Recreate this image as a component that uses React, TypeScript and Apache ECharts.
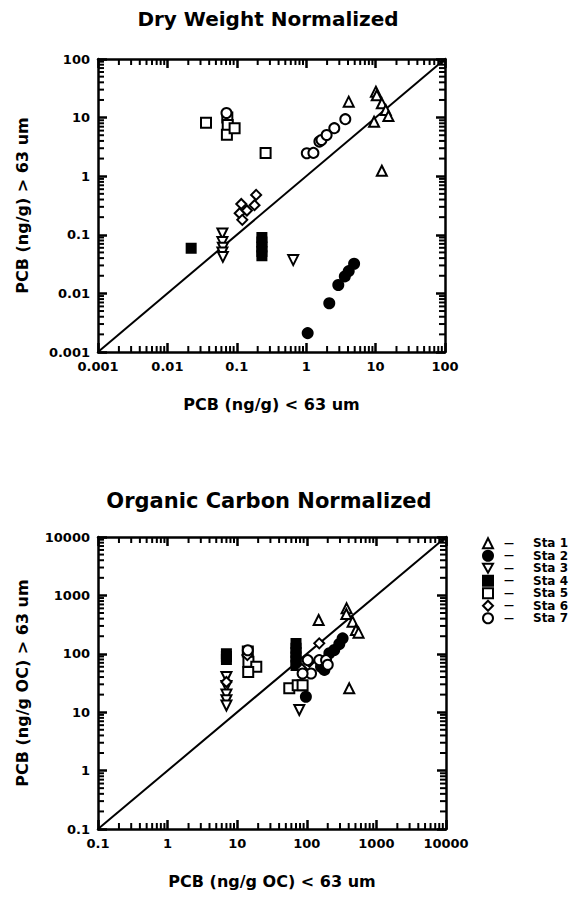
import React, { useEffect, useRef } from 'react';
import * as echarts from 'echarts';

// ---- Data ----
const stations = ['Sta 1', 'Sta 2', 'Sta 3', 'Sta 4', 'Sta 5', 'Sta 6', 'Sta 7'];

const dryRange = [0.001, 100];
const ocRange = [0.1, 10000];
const minorSteps = [2, 3, 4, 5, 6, 7, 8, 9];

// Dry weight normalized: [PCB < 63 um, PCB > 63 um] (ng/g)
const sta1Dry = [[10.1, 27.7], [10.4, 24], [4.1, 18.7], [12.3, 17.5], [14, 13.5], [15.3, 10.6], [9.5, 8.5], [12.3, 1.24]];
const sta2Dry = [[1.05, 0.0021], [2.15, 0.0068], [2.9, 0.0139], [3.6, 0.0195], [4.1, 0.024], [4.9, 0.032]];
const sta3Dry = [[0.062, 0.105], [0.062, 0.075], [0.063, 0.06], [0.062, 0.05], [0.063, 0.042], [0.65, 0.037]];
const sta4Dry = [[0.022, 0.059], [0.23, 0.09], [0.23, 0.075], [0.23, 0.062], [0.23, 0.052], [0.23, 0.044]];
const sta5Dry = [[0.036, 8.2], [0.073, 10], [0.074, 7.5], [0.072, 5.1], [0.093, 6.6], [0.26, 2.5]];
const sta6Dry = [[0.116, 0.336], [0.11, 0.233], [0.12, 0.18], [0.14, 0.26], [0.19, 0.48], [0.18, 0.32]];
const sta7Dry = [[1.02, 2.46], [1.27, 2.5], [1.55, 3.9], [1.66, 4.15], [1.97, 5.05], [2.54, 6.6], [3.66, 9.4], [0.071, 12]];

// Organic carbon normalized: [PCB < 63 um, PCB > 63 um] (ng/g OC)
const sta1Oc = [[148, 379], [373, 600], [370, 480], [455, 355], [508, 256], [554, 230], [407, 25.6]];
const sta2Oc = [[248, 116], [293, 147], [327, 184], [211, 102], [179, 53], [97, 18.4], [160, 60]];
const sta3Oc = [[7, 40], [7, 28], [7, 20], [7, 16], [7, 13], [78, 10.9]];
const sta4Oc = [[7, 100], [7, 90], [7, 80], [70, 150], [70, 125], [70, 105], [70, 88], [70, 75], [70, 63]];
const sta5Oc = [[14.2, 109], [14.5, 73], [18.8, 60], [14.4, 49], [56, 25.6], [74, 29], [87, 29]];
const sta6Oc = [[7, 33], [109, 73], [151, 151], [14, 95], [85, 55]];
const sta7Oc = [[151, 78], [189, 78], [103, 78], [115, 46], [87, 46], [14.2, 115], [200, 65]];

const dryData = [sta1Dry, sta2Dry, sta3Dry, sta4Dry, sta5Dry, sta6Dry, sta7Dry];
const ocData = [sta1Oc, sta2Oc, sta3Oc, sta4Oc, sta5Oc, sta6Oc, sta7Oc];

const symbols = ['triangle', 'circle', 'path://M0,0L10,0L5,9Z', 'rect', 'rect', 'diamond', 'circle'];
const filled = [false, true, false, true, false, false, false];
const sizes = [10, 10, 10, 9, 10, 10, 10];

const FONT = 'DejaVu Sans';

function fmt(v: number): string {
  return String(Number(v.toPrecision(6)));
}

function minorValues(range: number[]): number[] {
  const out: number[] = [];
  for (let d = range[0]; d < range[1] * 0.999; d *= 10) {
    for (const m of minorSteps) out.push(Number((d * m).toPrecision(6)));
  }
  return out;
}

function logAxis(gridIndex: number, range: number[], position: string, showLabel: boolean) {
  return {
    type: 'log',
    logBase: 10,
    gridIndex,
    min: range[0],
    max: range[1],
    position,
    axisLine: { show: true, onZero: false, lineStyle: { color: '#000', width: 2.5 } },
    axisTick: { show: true, inside: true, length: 9, lineStyle: { color: '#000', width: 2.5 } },
    minorTick: { show: false },
    splitLine: { show: false },
    axisLabel: {
      show: showLabel,
      color: '#000',
      fontFamily: FONT,
      fontWeight: 'bold',
      fontSize: 13,
      margin: 8,
      formatter: (v: number) => fmt(v),
    },
  };
}

export default function App() {
  const ref = useRef<HTMLDivElement>(null);

  useEffect(() => {
    if (!ref.current) return;
    const chart = echarts.init(ref.current, null, { renderer: 'svg' });

    const scatterSeries: any[] = [];
    [dryData, ocData].forEach((set, g) => {
      set.forEach((pts, i) => {
        scatterSeries.push({
          type: 'scatter',
          name: stations[i],
          xAxisIndex: g * 2,
          yAxisIndex: g * 2,
          symbol: symbols[i],
          symbolSize: sizes[i],
          data: pts,
          itemStyle: {
            color: filled[i] ? '#000' : '#fff',
            borderColor: '#000',
            borderWidth: 2,
            opacity: 1,
          },
          z: 3,
        });
      });
    });

    const diagonal = (g: number, range: number[]) => ({
      type: 'line',
      xAxisIndex: g * 2,
      yAxisIndex: g * 2,
      data: [[range[0], range[0]], [range[1], range[1]]],
      symbol: 'none',
      silent: true,
      lineStyle: { color: '#000', width: 2 },
      z: 2,
    });

    // minor ticks on all four edges, placed through the axes' own scales
    const L = 6;
    const W = 2;
    const tickSeries = (g: number, range: number[]) => {
      const vals = minorValues(range);
      const base = {
        type: 'scatter',
        xAxisIndex: g * 2,
        yAxisIndex: g * 2,
        symbol: 'rect',
        silent: true,
        clip: false,
        itemStyle: { color: '#000', opacity: 1 },
        z: 5,
      };
      return [
        { ...base, data: vals.map((v) => [v, range[0]]), symbolSize: [W, L], symbolOffset: [0, -L / 2] },
        { ...base, data: vals.map((v) => [v, range[1]]), symbolSize: [W, L], symbolOffset: [0, L / 2] },
        { ...base, data: vals.map((v) => [range[0], v]), symbolSize: [L, W], symbolOffset: [L / 2, 0] },
        { ...base, data: vals.map((v) => [range[1], v]), symbolSize: [L, W], symbolOffset: [-L / 2, 0] },
      ];
    };

    const nameStyle = { color: '#000', fontFamily: FONT, fontWeight: 'bold', fontSize: 16 };
    const xName = (name: string) => ({ name, nameLocation: 'middle', nameGap: 44, nameTextStyle: nameStyle });
    const yName = (name: string) => ({ name, nameLocation: 'middle', nameGap: 68, nameTextStyle: nameStyle });

    chart.setOption({
      animation: false,
      backgroundColor: '#fff',
      grid: [
        { left: 98, top: 59, width: 347, height: 293 },
        { left: 98, top: 537, width: 348, height: 292 },
      ],
      xAxis: [
        { ...logAxis(0, dryRange, 'bottom', true), ...xName('PCB (ng/g) < 63 um') },
        logAxis(0, dryRange, 'top', false),
        { ...logAxis(1, ocRange, 'bottom', true), ...xName('PCB (ng/g OC) < 63 um') },
        logAxis(1, ocRange, 'top', false),
      ],
      yAxis: [
        { ...logAxis(0, dryRange, 'left', true), ...yName('PCB (ng/g) > 63 um') },
        logAxis(0, dryRange, 'right', false),
        { ...logAxis(1, ocRange, 'left', true), ...yName('PCB (ng/g OC) > 63 um') },
        logAxis(1, ocRange, 'right', false),
      ],
      legend: {
        data: stations,
        orient: 'vertical',
        left: 477,
        top: 532,
        itemWidth: 10,
        itemHeight: 10,
        itemGap: 0,
        selectedMode: false,
        formatter: (name: string) => `{d|—}{n|${name}}`,
        textStyle: {
          color: '#000',
          fontFamily: FONT,
          fontWeight: 'bold',
          fontSize: 12,
          lineHeight: 12.5,
          rich: {
            d: { width: 22, align: 'center', fontFamily: FONT, fontWeight: 'bold', fontSize: 10, lineHeight: 12.5 },
            n: { fontFamily: FONT, fontWeight: 'bold', fontSize: 12, lineHeight: 12.5, padding: [0, 0, 0, 13] },
          },
        },
      },
      graphic: [
        {
          type: 'text',
          x: 268,
          y: 19,
          style: { text: 'Dry Weight Normalized', align: 'center', verticalAlign: 'middle', fill: '#000', font: `bold 20px "${FONT}"` },
        },
        {
          type: 'text',
          x: 269,
          y: 501,
          style: { text: 'Organic Carbon Normalized', align: 'center', verticalAlign: 'middle', fill: '#000', font: `bold 21px "${FONT}"` },
        },
      ],
      series: [
        diagonal(0, dryRange),
        diagonal(1, ocRange),
        ...tickSeries(0, dryRange),
        ...tickSeries(1, ocRange),
        ...scatterSeries,
      ],
    });

    return () => chart.dispose();
  }, []);

  return (
    <div
      ref={ref}
      style={{ position: 'absolute', left: 0, top: 0, width: 580, height: 900, background: '#fff' }}
    />
  );
}
